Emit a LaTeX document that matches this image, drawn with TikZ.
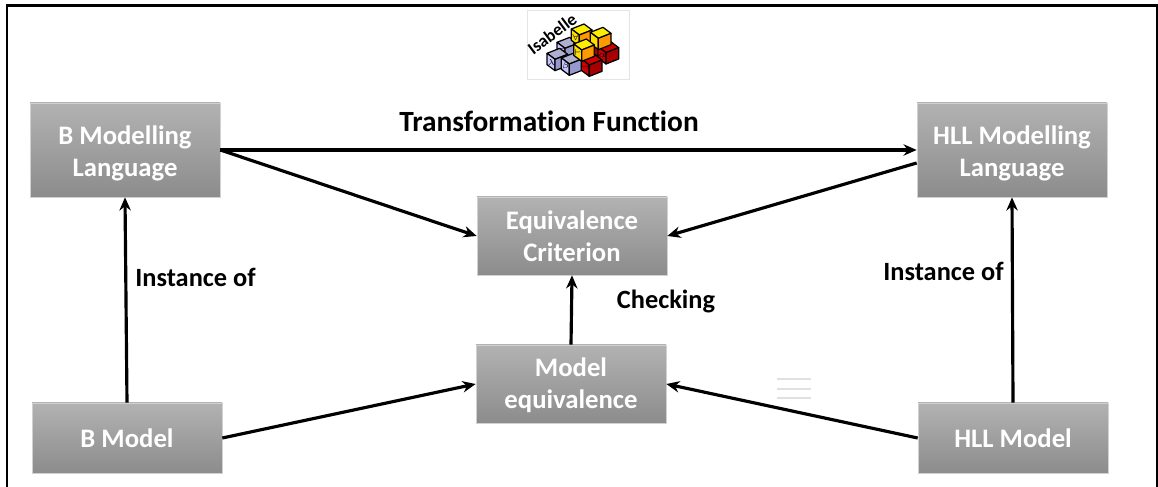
\documentclass[tikz,border=0pt]{standalone}
\usepackage{fontspec}
\setmainfont[Ligatures=NoCommon]{Carlito}
\usepackage{amsmath}
\usepackage{amssymb}
\usetikzlibrary{calc}
\usetikzlibrary{arrows.meta}

\definecolor{boxtop}{HTML}{B2B2B2}
\definecolor{boxbot}{HTML}{8C8C8C}

\tikzset{
    graybox/.style={top color=boxtop,bottom color=boxbot,draw=boxtop!60!white,line width=0.4pt,
        minimum width=3.8cm,text=white,align=center,inner sep=0pt,
        font=\fontsize{15.2}{18.2}\selectfont\bfseries},
    conn/.style={line width=1.8pt,-{Stealth[length=7.5pt,width=6.5pt]}},
    lbl/.style={inner sep=0pt,font=\fontsize{15}{18}\selectfont\bfseries},
    cubeedge/.style={draw=black,line width=0.7pt,line join=round},
    cubesym/.style={inner sep=0pt,font=\fontsize{4}{4}\selectfont}
}

% one cube of the logo: name, front vertex, top, left and right colour, symbol
\newcommand{\logocube}[6]{
    \coordinate (#1) at #2;
    \fill[#3,cubeedge] (#1) -- ++(38,-15) -- ++(-24,-18) -- ++(-38,15) -- cycle;
    \fill[#4,cubeedge] (#1) -- ++(-24,-18) -- ++(0,34) -- ++(24,18) -- cycle;
    \fill[#5,cubeedge] (#1) -- ++(38,-15) -- ++(0,34) -- ++(-38,15) -- cycle;
    \node[cubesym] (#1sym) at ($(#1)+(-11,8)$) {#6};
}

\begin{document}
\begin{tikzpicture}
    \useasboundingbox (0,0) rectangle (23.16,9.74);

    % frame, open at the bottom
    \draw[line width=1.5pt] (0.14,0) -- (0.14,9.63) -- (23.14,9.63) -- (23.14,0);

    % logo
    \begin{scope}[shift={(10,9.74)},x=0.00667cm,y=-0.00667cm]
        \draw[black!10,fill=white,line width=0.4pt] (82,32) rectangle (388,238);
        \logocube{cubeb}{(195,145)}{blue!25!gray!50!white}{blue!22!white}{blue!35!gray!60!white}{$=$}
        \logocube{cubed}{(272,140)}{red!80!black}{red!80!black}{red!65!black}{}
        \logocube{cubeg}{(318,158)}{red!80!black}{red!80!black}{red!65!black}{$\alpha$}
        \logocube{cubea}{(165,178)}{blue!25!gray!50!white}{blue!22!white}{blue!35!gray!60!white}{$\lambda$}
        \logocube{cubec}{(208,192)}{blue!25!gray!50!white}{blue!22!white}{blue!35!gray!60!white}{$\beta$}
        \logocube{cubeh}{(268,195)}{red!80!black}{red!80!black}{red!65!black}{$\rightarrow$}
        \logocube{cubee}{(238,105)}{yellow!95!orange}{yellow!80!orange}{orange!80!yellow}{$\forall$}
        \logocube{cubef}{(295,115)}{yellow!95!orange}{yellow!80!orange}{orange!80!yellow}{}
        \logocube{cubei}{(245,150)}{yellow!95!orange}{yellow!80!orange}{orange!80!yellow}{$\vdash$}
        \node[rotate=37,inner sep=0pt,font=\fontsize{10}{10}\selectfont\bfseries] (logotext) at (156,102) {Isabelle};
    \end{scope}

    % boxes
    \node[graybox,minimum height=1.88cm] (blang) at (2.5,6.74) {\rule{0pt}{14pt}B Modelling\\Language};
    \node[graybox,minimum height=1.88cm] (hlang) at (20.24,6.74) {\rule{0pt}{14pt}HLL Modelling\\Language};
    \node[graybox,minimum height=1.56cm] (crit) at (11.44,5.02) {Equivalence\\Criterion};
    \node[graybox,minimum height=1.56cm] (meq) at (11.42,2.06) {\rule{0pt}{12.5pt}Model\\equivalence};
    \node[graybox,minimum height=1.4cm] (bmodel) at (2.54,0.98) {B Model};
    \node[graybox,minimum height=1.4cm] (hmodel) at (20.26,0.98) {HLL Model};

    % arrows
    \draw[conn] (blang.east) -- (hlang.west);
    \draw[conn] (blang.east) -- (crit.west);
    \draw[conn] ($(hlang.west)+(0,-0.26)$) -- (crit.east);
    \draw[conn] (bmodel.east) -- (meq.west);
    \draw[conn] (hmodel.west) -- (meq.east);
    \draw[conn] (bmodel.north) -- (blang.south);
    \draw[conn] (hmodel.north) -- (hlang.south);
    \draw[conn] (meq.north) -- (crit.south);

    % labels
    \node[lbl,font=\fontsize{16.7}{20}\selectfont\bfseries] (trans) at (10.98,7.32) {Transformation Function};
    \node[lbl] (instb) at (3.91,4.2) {Instance of};
    \node[lbl] (insth) at (18.87,4.32) {Instance of};
    \node[lbl] (check) at (13.32,3.72) {Checking};

    % faint lines
    \foreach \y in {2.16,1.96,1.78}
        \draw[black!12,line width=0.6pt] (15.54,\y) -- (16.22,\y);
\end{tikzpicture}
\end{document}
